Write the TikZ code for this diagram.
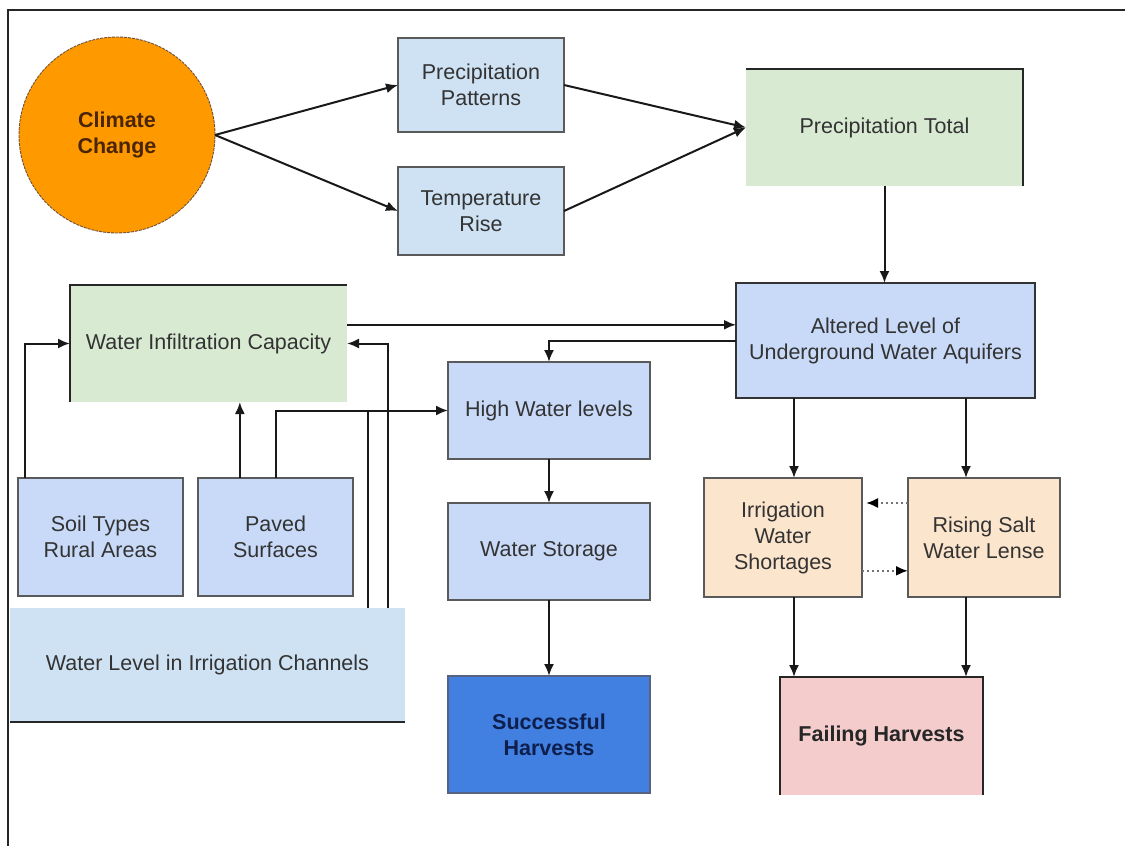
\documentclass[tikz,border=0pt]{standalone}
\usepackage{fontspec}
\setmainfont{Liberation Sans}
\usetikzlibrary{arrows.meta,calc}
\definecolor{orangec}{HTML}{FF9900}
\definecolor{lblue}{HTML}{CFE2F3}
\definecolor{mblue}{HTML}{C9DAF8}
\definecolor{lgreen}{HTML}{D9EAD3}
\definecolor{peach}{HTML}{FCE5CD}
\definecolor{pinkc}{HTML}{F4CCCC}
\definecolor{dblue}{HTML}{4180E0}
\definecolor{txt}{HTML}{333333}
\definecolor{bord}{HTML}{5A5A5A}
\definecolor{brownt}{HTML}{4A2508}
\definecolor{navyt}{HTML}{0E1F4D}
\begin{document}
\begin{tikzpicture}[x=1pt,y=-1pt,
  box/.style={rectangle, inner sep=0pt, outer sep=0pt, align=center, text=txt,
    font=\fontsize{21.5}{26}\selectfont},
  full/.style={draw=bord, line width=1.4pt},
  edge/.style={draw=black!85, line width=2pt},
  conn/.style={draw=black!90, line width=2pt, -{Latex[length=12pt,width=10pt]}},
  plainline/.style={draw=black!90, line width=2pt},
  dotconn/.style={draw=black!55, line width=2pt, dash pattern=on 2pt off 3pt,
    -{Latex[length=12pt,width=10pt,color=black]}}
]
\useasboundingbox (0,0) rectangle (1125,846);
\fill[white] (0,0) rectangle (1125,846);
\draw[line width=2.2pt, black!85] (8,846) -- (8,10) -- (1125,10);

% nodes
\node[circle, minimum size=196pt, inner sep=0pt, outer sep=0pt, fill=orangec,
  draw=brownt!80, line width=0.9pt, dash pattern=on 3pt off 1pt,
  text=brownt, align=center, font=\fontsize{21.5}{26}\selectfont\bfseries]
  (cc) at (117,135) {Climate\\Change};
\node[box, full, fill=lblue, minimum width=166pt, minimum height=94pt] (pp) at (481,85) {Precipitation\\Patterns};
\node[box, full, fill=lblue, minimum width=166pt, minimum height=88pt] (tr) at (481,211) {Temperature\\Rise};
\node[box, fill=lgreen, minimum width=277pt, minimum height=117pt] (pt) at (884.5,127.5) {Precipitation Total};
\node[box, draw=black!80, line width=1.6pt, fill=mblue, minimum width=299pt, minimum height=115pt] (al) at (885.5,340.5) {Altered Level of\\Underground Water Aquifers};
\node[box, fill=lgreen, minimum width=277pt, minimum height=117pt] (wic) at (208.5,343.5) {Water Infiltration Capacity};
\node[box, full, fill=mblue, minimum width=202pt, minimum height=97pt] (hw) at (549,410.5) {High Water levels};
\node[box, full, fill=mblue, minimum width=202pt, minimum height=97pt] (ws) at (549,551.5) {Water Storage};
\node[box, draw=navyt!70, line width=1.4pt, fill=dblue, text=navyt, font=\fontsize{21.5}{26}\selectfont\bfseries,
  minimum width=202pt, minimum height=117pt] (sh) at (549,734.5) {Successful\\Harvests};
\node[box, full, fill=mblue, minimum width=165pt, minimum height=118pt] (st) at (100.5,537) {Soil Types\\Rural Areas};
\node[box, full, fill=mblue, minimum width=155pt, minimum height=118pt] (ps) at (275.5,537) {Paved\\Surfaces};
\node[box, fill=lblue, minimum width=395pt, minimum height=114pt] (wl) at (207.5,665) {Water Level in Irrigation Channels};
\node[box, full, fill=peach, minimum width=158pt, minimum height=119pt] (iws) at (783,537.5) {Irrigation\\Water\\Shortages};
\node[box, full, fill=peach, minimum width=152pt, minimum height=119pt] (rs) at (984,537.5) {Rising Salt\\Water Lense};
\node[box, fill=pinkc, text=black!85, font=\fontsize{21.5}{26}\selectfont\bfseries,
  minimum width=203pt, minimum height=118pt] (fh) at (881.5,736) {Failing Harvests};

% partial borders
\draw[edge] (pt.north west) -- (pt.north east) -- (pt.south east);
\draw[edge] (wic.south west) -- (wic.north west) -- (wic.north east);
\draw[edge] (wl.south west) -- (wl.south east);
\draw[edge] (fh.south west) -- (fh.north west) -- (fh.north east) -- (fh.south east);

% connectors
\draw[conn] (cc.east) -- (pp.west);
\draw[conn] (cc.east) -- (tr.west);
\draw[conn] (pp.east) -- (pt.west);
\draw[conn] (tr.east) -- (pt.west);
\draw[conn] (pt.south) -- (pt.south |- al.north);

\coordinate (a1) at ($(wic.north east)!0.34!(wic.south east)$);
\draw[conn] (a1) -- (a1 -| al.west);
\draw[conn] (al.west) -| (hw.north);
\draw[conn] (hw.south) -- (ws.north);
\draw[conn] (ws.south) -- (sh.north);

\coordinate (s1) at ($(st.north west)!0.04!(st.north east)$);
\draw[conn] (s1) |- (wic.west);
\coordinate (p1) at ($(ps.north west)!0.27!(ps.north east)$);
\draw[conn] (p1) -- (p1 |- wic.south);
\draw[conn] (ps.north) |- (hw.west);
\coordinate (w1) at ($(wl.north west)!0.907!(wl.north east)$);
\draw[plainline] (w1) -- (w1 |- hw.west);
\coordinate (w2) at ($(wl.north west)!0.957!(wl.north east)$);
\draw[conn] (w2) |- (wic.east);

\coordinate (x1) at (794,0);
\coordinate (x2) at (966,0);
\draw[conn] (x1 |- al.south) -- (x1 |- iws.north);
\draw[conn] (x2 |- al.south) -- (x2 |- rs.north);
\draw[conn] (x1 |- iws.south) -- (x1 |- fh.north);
\draw[conn] (x2 |- rs.south) -- (x2 |- fh.north);

\coordinate (d1) at ($(rs.north west)!0.21!(rs.south west)$);
\draw[dotconn] (d1) -- ($(d1 -| iws.east)+(4,0)$);
\coordinate (d2) at ($(iws.north east)!0.78!(iws.south east)$);
\draw[dotconn] (d2) -- (d2 -| rs.west);
\end{tikzpicture}
\end{document}
